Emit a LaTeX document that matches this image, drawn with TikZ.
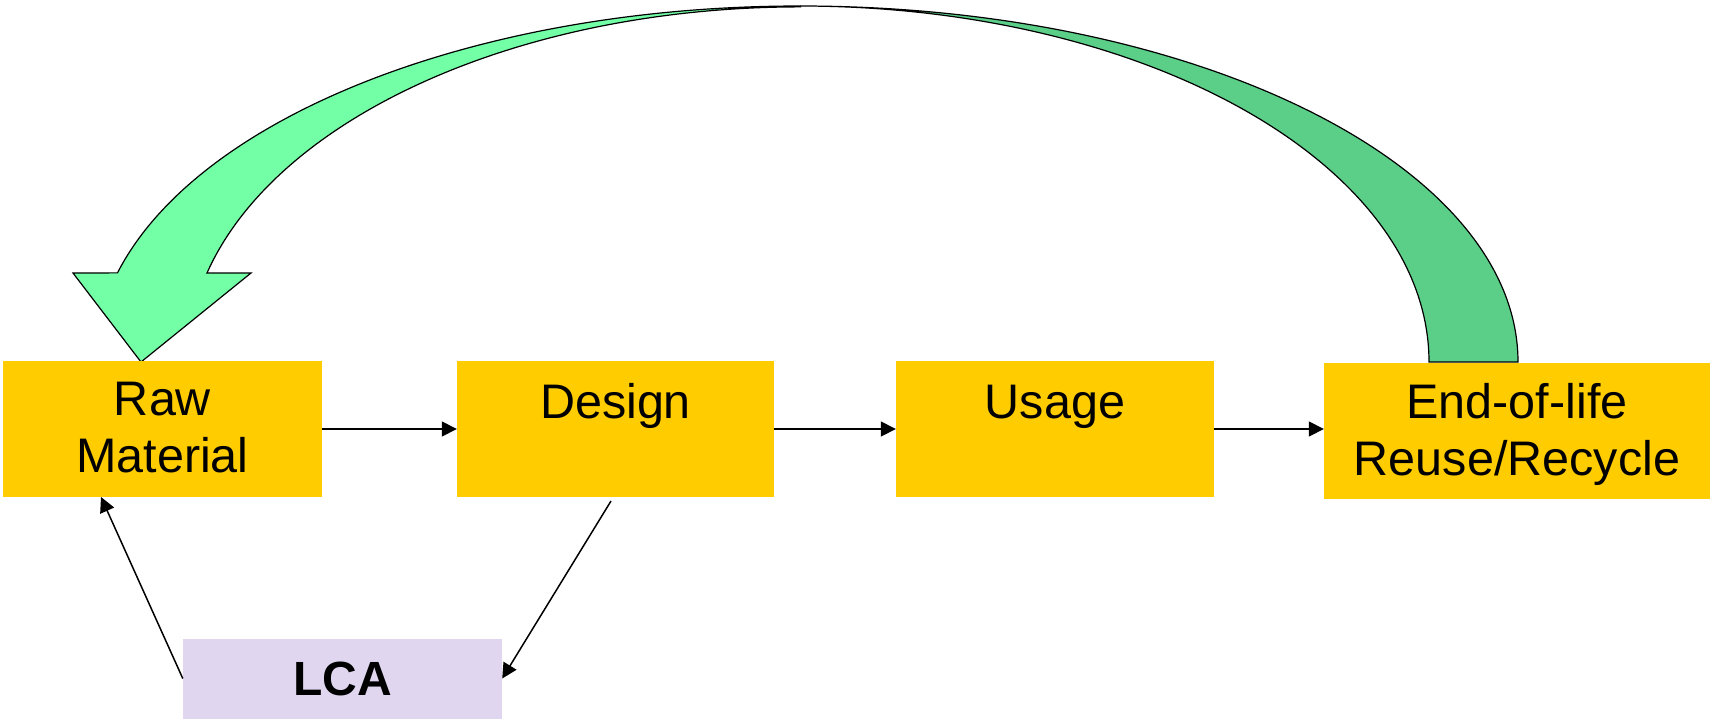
\documentclass[tikz,border=0pt]{standalone}
\usepackage{fontspec}
\setmainfont{Liberation Sans}
\usetikzlibrary{arrows.meta}
\definecolor{boxgold}{RGB}{255,204,0}
\definecolor{lcalilac}{RGB}{224,214,240}
\definecolor{loopfront}{RGB}{114,255,165}
\definecolor{loopback}{RGB}{91,206,136}

\begin{document}
\begin{tikzpicture}[x=1pt, y=1pt, yscale=-1,
  stage/.style={fill=boxgold, draw=none, minimum width=#1, minimum height=136, inner sep=0pt},
  lbl/.style={font=\fontsize{48.5}{57}\selectfont, align=center, inner sep=0pt},
  conn/.style={line width=1.5pt, -{Triangle[length=15pt,width=15pt]}},
  loop/.style={draw=black, line width=1.2pt, line join=miter}]
\useasboundingbox (0,0) rectangle (1710,718);

% recycling loop: back half (dark) and front half with the arrow head (light)
\coordinate (top) at (800,6);
\filldraw[loop, fill=loopback] (top)
  arc[start angle=-90, end angle=0, x radius=718, y radius=356]
  -- (1429,362)
  arc[start angle=0, end angle=-90, x radius=629, y radius=356] -- cycle;
\filldraw[loop, fill=loopfront] (top)
  arc[start angle=-90, end angle=-165.5, x radius=705, y radius=356]
  -- (73,273) -- (141,362) -- (251,273) -- (207,273)
  arc[start angle=-165.5, end angle=-90, x radius=613, y radius=355] -- cycle;

% life-cycle stages
\node[stage=319] (raw)    at (162.5,429) {};
\node[stage=317] (design) at (615.5,429) {};
\node[stage=318] (usage)  at (1055,429) {};
\node[stage=386] (eol)    at (1517,431) {};

\node[lbl] (rawtxt) at (162.5,428) {Raw\\Material};
\node[lbl, anchor=base] (designtxt) at (615.5,418) {Design};
\node[lbl, anchor=base] (usagetxt) at (1055,418) {Usage};
\node[lbl] (eoltxt) at (1517,434) {End-of-life\\Reuse/Recycle};

\node[fill=lcalilac, minimum width=319, minimum height=80, inner sep=0pt,
      font=\fontsize{48}{56}\selectfont\bfseries] (lca) at (342.5,678.5) {LCA};

% flow between stages
\draw[conn] (raw.east) -- (design.west);
\draw[conn] (design.east) -- (usage.west);
\draw[conn] (usage.east) -- (usage.east -| eol.west);

% assessment feedback
\coordinate (dstart) at (611,501);
\coordinate (rawin) at (101,497);
\draw[conn] (dstart) -- (lca.east);
\draw[conn] (lca.west) -- (rawin);
\end{tikzpicture}
\end{document}
